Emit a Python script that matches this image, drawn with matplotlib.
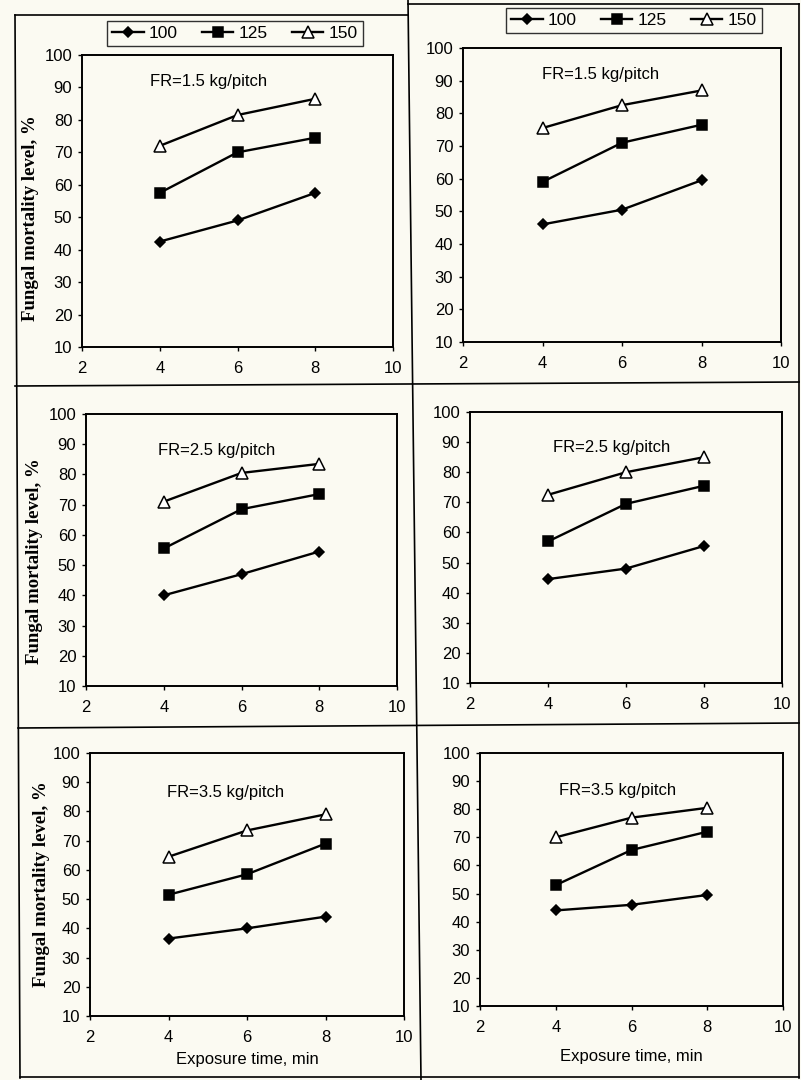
"""
Fungal mortality level vs exposure time, six panels (FR = 1.5 / 2.5 / 3.5 kg/pitch).
"""

import matplotlib
matplotlib.use("Agg")
import matplotlib.pyplot as plt
from matplotlib.lines import Line2D

# exposure time, min
exposure = [4, 6, 8]
series_names = ["100", "125", "150"]

# left column
fr15_left = [[42.5, 49.0, 57.5], [57.5, 70.0, 74.5], [72.0, 81.5, 86.5]]
fr25_left = [[40.0, 47.0, 54.5], [55.5, 68.5, 73.5], [71.0, 80.5, 83.5]]
fr35_left = [[36.5, 40.0, 44.0], [51.5, 58.5, 69.0], [64.5, 73.5, 79.0]]

# right column
fr15_right = [[46.0, 50.5, 59.5], [59.0, 71.0, 76.5], [75.5, 82.5, 87.0]]
fr25_right = [[44.5, 48.0, 55.5], [57.0, 69.5, 75.5], [72.5, 80.0, 85.0]]
fr35_right = [[44.0, 46.0, 49.5], [53.0, 65.5, 72.0], [70.0, 77.0, 80.5]]

panel_titles = ["FR=1.5 kg/pitch", "FR=2.5 kg/pitch", "FR=3.5 kg/pitch"]
x_ticks = [2, 4, 6, 8, 10]
y_ticks = [10, 20, 30, 40, 50, 60, 70, 80, 90, 100]

W, H = 801, 1080
PAPER = "#fbfaf2"
SANS = "Liberation Sans"
SERIF = "Liberation Serif"

styles = [
    dict(marker="D", markersize=5.5, markerfacecolor="black"),
    dict(marker="s", markersize=6.5, markerfacecolor="black"),
    dict(marker="^", markersize=8, markerfacecolor="white"),
]


def px_rect(l, t, r, b):
    return [l / W, 1 - b / H, (r - l) / W, (b - t) / H]


def draw_panel(fig, rect, data, title, title_pos, ylabel_pos=None, xlabel=False):
    ax = fig.add_axes(px_rect(*rect))
    ax.set_facecolor(PAPER)
    for vals, st in zip(data, styles):
        ax.plot(exposure, vals, color="black", lw=1.7,
                markeredgecolor="black", markeredgewidth=1.1, **st)
    ax.set_xlim(2, 10)
    ax.set_ylim(10, 100)
    ax.set_xticks(x_ticks)
    ax.set_yticks(y_ticks)
    ax.tick_params(direction="out", length=3, width=1, labelsize=12)
    ax.tick_params(axis="y", pad=4)
    ax.tick_params(axis="x", pad=7)
    for lab in ax.get_xticklabels() + ax.get_yticklabels():
        lab.set_fontfamily(SANS)
    for sp in ax.spines.values():
        sp.set_linewidth(1.4)
    ax.text(title_pos[0], title_pos[1], title, transform=ax.transAxes,
            fontsize=12, family=SANS, va="center", ha="left")
    if ylabel_pos is not None:
        ax.set_ylabel("Fungal mortality level, %", family=SERIF,
                      fontweight="bold", fontsize=13.5)
        ax.yaxis.set_label_coords(*ylabel_pos)
        ax.yaxis.label.set_va("center")
    if xlabel:
        ax.set_xlabel("Exposure time, min", family=SANS, fontsize=12)
    return ax


def main():
    fig = plt.figure(figsize=(W / 100, H / 100), dpi=100, facecolor=PAPER)

    tl = draw_panel(fig, (82, 55, 393, 347), fr15_left, panel_titles[0],
                    (0.22, 0.91), ylabel_pos=(-0.167, 0.44))
    tr = draw_panel(fig, (463, 48, 781, 342), fr15_right, panel_titles[0],
                    (0.25, 0.91))
    draw_panel(fig, (86, 414, 397, 686), fr25_left, panel_titles[1],
               (0.23, 0.865), ylabel_pos=(-0.164, 0.46))
    draw_panel(fig, (470, 412, 782, 683), fr25_right, panel_titles[1],
               (0.265, 0.87))
    bl = draw_panel(fig, (90, 753, 404, 1016), fr35_left, panel_titles[2],
                    (0.245, 0.85), ylabel_pos=(-0.153, 0.5), xlabel=True)
    br = draw_panel(fig, (480, 753, 783, 1006), fr35_right, panel_titles[2],
                    (0.26, 0.85), xlabel=True)
    bl.xaxis.set_label_coords(0.5, -0.167)
    bl.xaxis.label.set_va("center")
    br.xaxis.set_label_coords(0.5, -0.2)
    br.xaxis.label.set_va("center")

    # legends above the top panels
    for ax, centre in [(tl, (235 / W, 1 - 33.5 / H)), (tr, (634 / W, 1 - 20.5 / H))]:
        leg = ax.legend(series_names, loc="center", bbox_to_anchor=centre,
                        bbox_transform=fig.transFigure, ncol=3, frameon=True,
                        fancybox=False, edgecolor="black",
                        handlelength=1.8, handletextpad=0.3, columnspacing=1.4,
                        borderpad=0.3, prop={"family": SANS, "size": 12.5})
        leg.get_frame().set_linewidth(1.0)
        leg.get_frame().set_facecolor(PAPER)

    # scanned panel frame lines
    frame = [
        ((15, 15), (408, 15)),
        ((408, 4), (799, 4)),
        ((15, 15), (20, 1078)),
        ((408, 0), (421, 1080)),
        ((799, 4), (799, 1078)),
        ((15, 386), (799, 382)),
        ((18, 728), (799, 723)),
        ((20, 1077), (799, 1077)),
    ]
    for (x0, y0), (x1, y1) in frame:
        fig.add_artist(Line2D([x0 / W, x1 / W], [1 - y0 / H, 1 - y1 / H],
                              color="black", lw=1.2, transform=fig.transFigure))

    fig.savefig("out.png", dpi=100, facecolor=PAPER)


if __name__ == "__main__":
    main()
